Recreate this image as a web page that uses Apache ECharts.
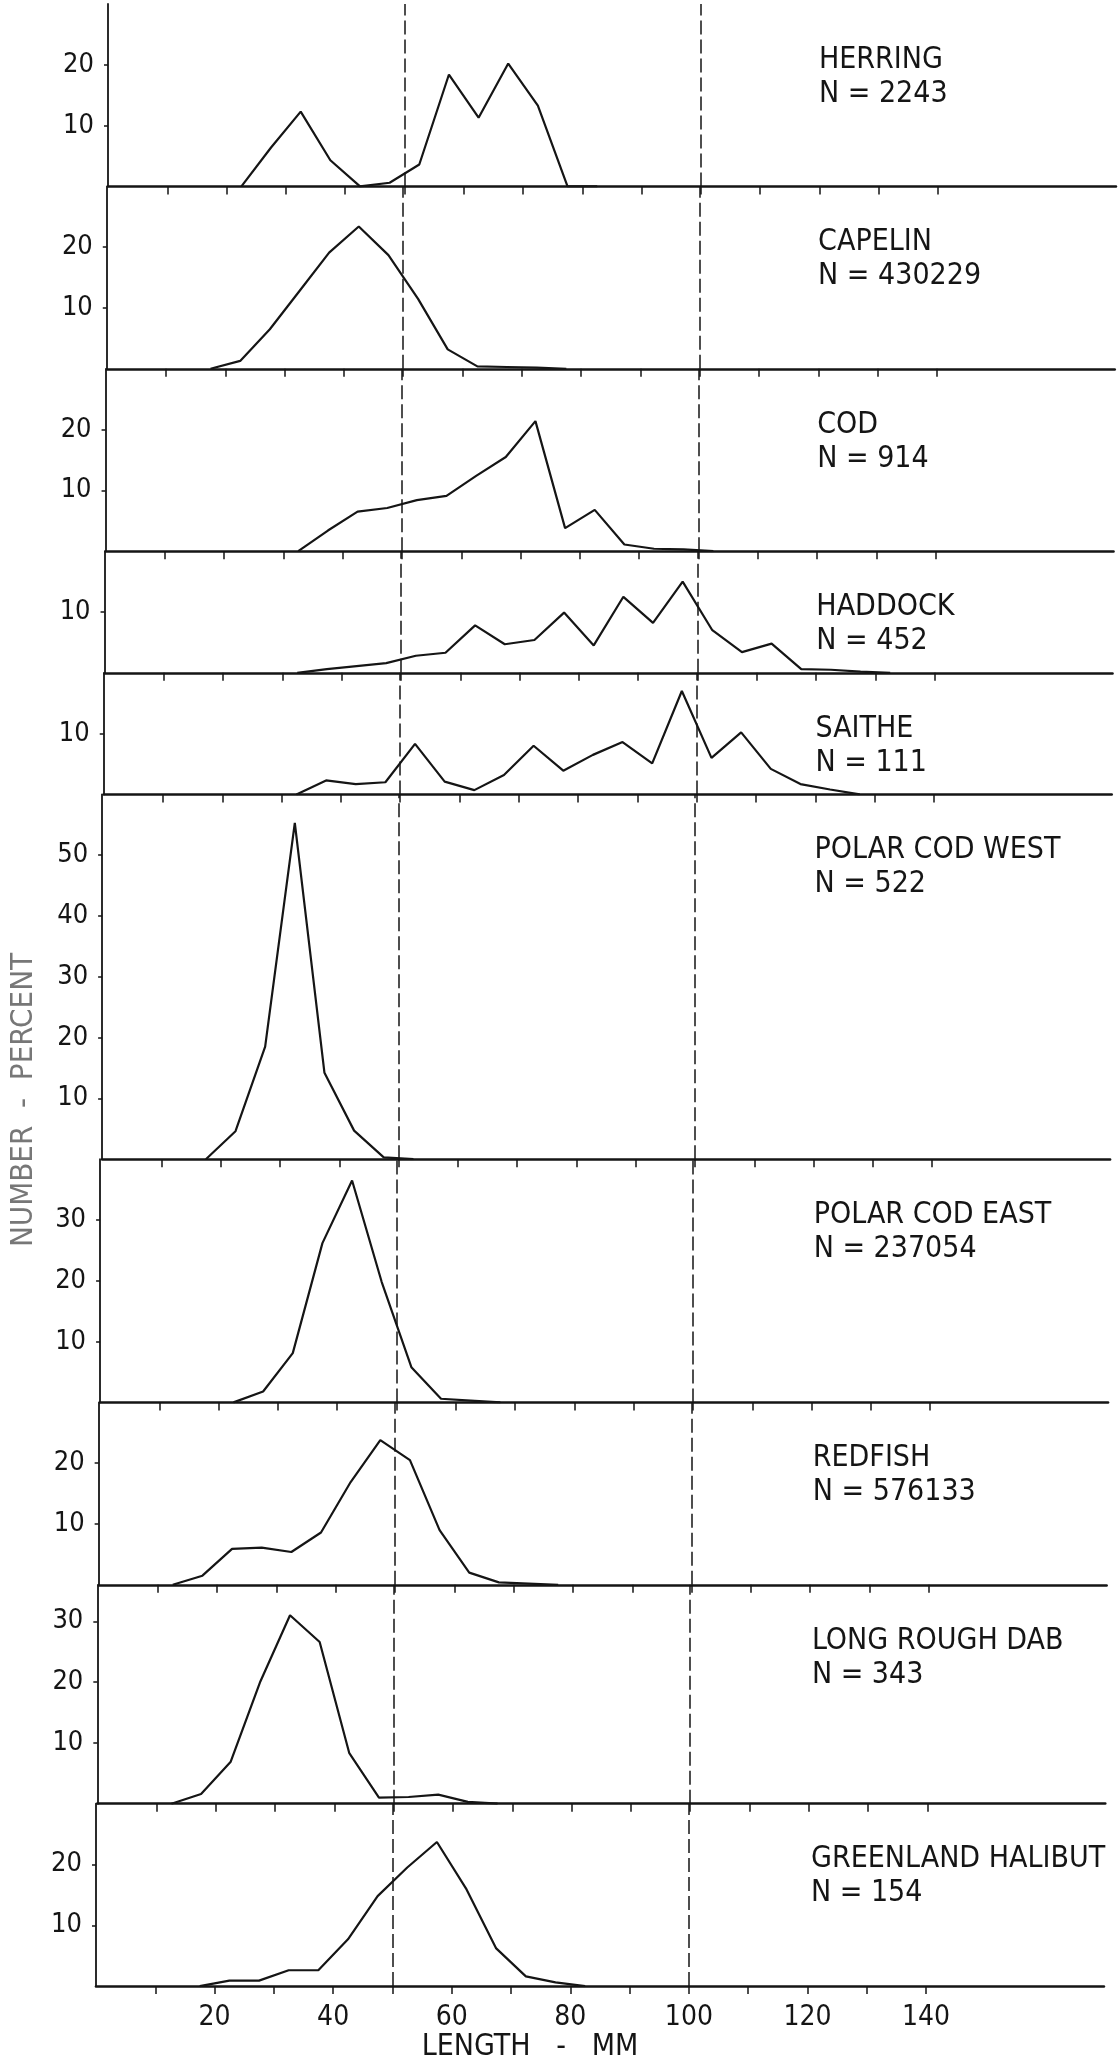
<!DOCTYPE html>
<html>
<head>
<meta charset="utf-8">
<title>Length distributions</title>
<script src="https://cdn.jsdelivr.net/npm/echarts@6/dist/echarts.min.js"></script>
<style>
  html, body { margin: 0; padding: 0; background: #fff; }
  #chart { width: 1120px; height: 2064px; }
</style>
</head>
<body>
<div id="chart"></div>
<script>
//length classes, mm (class midpoints)
let lengthClasses = [12.5, 17.5, 22.5, 27.5, 32.5, 37.5, 42.5, 47.5, 52.5, 57.5, 62.5, 67.5, 72.5,
  77.5, 82.5, 87.5, 92.5, 97.5, 102.5, 107.5, 112.5, 117.5, 122.5, 127.5, 132.5];

//species and sample size
let species = ['HERRING', 'CAPELIN', 'COD', 'HADDOCK', 'SAITHE', 'POLAR COD WEST',
  'POLAR COD EAST', 'REDFISH', 'LONG ROUGH DAB', 'GREENLAND HALIBUT'];
let sampleSize = [2243, 430229, 914, 452, 111, 522, 237054, 576133, 343, 154];

//number - percent per length class (null = no line)
let herring = [null, null, 0, 6.4, 12.3, 4.3, 0, 0.6, 3.6, 18.4, 11.3, 20.2, 13.3, 0, 0,
  null, null, null, null, null, null, null, null, null, null];
let capelin = [null, 0, 1.3, 6.5, 12.8, 19.1, 23.4, 18.7, 11.5, 3.2, 0.4, 0.3, 0.2, 0,
  null, null, null, null, null, null, null, null, null, null, null];
let cod = [null, null, null, null, 0, 3.4, 6.5, 7.1, 8.4, 9.1, 12.4, 15.5, 21.4, 3.8, 6.8,
  1.1, 0.4, 0.3, 0, null, null, null, null, null, null];
let haddock = [null, null, null, null, 0, 0.6, 1.1, 1.6, 2.8, 3.3, 7.8, 4.7, 5.4, 9.9, 4.5,
  12.5, 8.2, 15.0, 7.0, 3.4, 4.8, 0.6, 0.5, 0.2, 0];
let saithe = [null, null, null, null, 0, 2.3, 1.7, 2.0, 8.3, 2.1, 0.7, 3.2, 8.0, 3.9, 6.5,
  8.6, 5.1, 17.0, 6.0, 10.2, 4.2, 1.7, 0.8, 0, null];
let polarCodWest = [null, 0, 4.6, 18.5, 55.3, 14.2, 4.7, 0.3, 0,
  null, null, null, null, null, null, null, null, null, null, null, null, null, null, null, null];
let polarCodEast = [null, null, 0, 1.8, 8.1, 26.2, 36.5, 19.8, 5.8, 0.6, 0.3, 0,
  null, null, null, null, null, null, null, null, null, null, null, null, null];
let redfish = [0, 1.5, 5.9, 6.1, 5.4, 8.6, 16.9, 23.8, 20.5, 9.0, 2.0, 0.4, 0.2, 0,
  null, null, null, null, null, null, null, null, null, null, null];
let longRoughDab = [0, 1.6, 6.9, 20.1, 31.0, 26.6, 8.3, 1.0, 1.1, 1.5, 0.3, 0,
  null, null, null, null, null, null, null, null, null, null, null, null, null];
let greenlandHalibut = [null, 0, 0.9, 0.9, 2.6, 2.6, 7.7, 14.8, 19.5, 23.7, 15.9, 6.2, 1.6, 0.6, 0,
  null, null, null, null, null, null, null, null, null, null];

let seriesValues = [herring, capelin, cod, haddock, saithe, polarCodWest,
  polarCodEast, redfish, longRoughDab, greenlandHalibut];

//axis ranges and ticks
let panelMax = [30, 30, 30, 20, 20, 60, 40, 30, 36, 30];
let yLabels = [[10, 20], [10, 20], [10, 20], [10], [10], [10, 20, 30, 40, 50],
  [10, 20, 30], [10, 20], [10, 20, 30], [10, 20]];
let xTicks = [10, 20, 30, 40, 50, 60, 70, 80, 90, 100, 110, 120, 130, 140];
let xLabels = [20, 40, 60, 80, 100, 120, 140];
let dashLines = [50, 100];
let xMax = 170;

//layout
let fontFam = "'DejaVu Sans Condensed', 'DejaVu Sans', sans-serif";
let pxPerPct = 6.08;
let plotTop = 4;
let plotWidth = 1008;
let ink = '#151515';

let chart = echarts.init(document.getElementById('chart'), null, { renderer: 'canvas' });

let grids = [], xAxes = [], yAxes = [], series = [], graphics = [];
let panelTop = plotTop;
let last = species.length - 1;

species.forEach((name, i) => {
  let h = panelMax[i] * pxPerPct;
  let mid = panelTop + h / 2;
  //the scanned figure leans a little, move the axis left going down
  let left = 108 - (mid - 95) / 1795 * 12;

  grids.push({ left: left, top: panelTop, width: plotWidth, height: h, containLabel: false });

  xAxes.push({
    gridIndex: i,
    type: 'value',
    min: 0,
    max: xMax,
    axisLine: { show: true, onZero: false, lineStyle: { color: ink, width: 2.5 } },
    axisTick: { show: true, customValues: xTicks, length: 8, inside: false, lineStyle: { color: ink, width: 1.5 } },
    axisLabel: {
      show: i === last,
      customValues: xLabels,
      fontFamily: fontFam,
      fontSize: 28,
      color: ink,
      margin: 18
    },
    splitLine: { show: false }
  });

  yAxes.push({
    gridIndex: i,
    type: 'value',
    min: 0,
    max: panelMax[i],
    axisLine: { show: true, lineStyle: { color: ink, width: 1.8 } },
    axisTick: { show: true, customValues: yLabels[i], length: 4, lineStyle: { color: ink, width: 1.5 } },
    axisLabel: {
      show: true,
      customValues: yLabels[i],
      fontFamily: fontFam,
      fontSize: 27,
      color: ink,
      margin: 14
    },
    splitLine: { show: false }
  });

  let pts = [];
  seriesValues[i].forEach((v, k) => {
    if (v !== null) {
      pts.push([lengthClasses[k], v]);
    }
  });

  series.push({
    type: 'line',
    name: name,
    xAxisIndex: i,
    yAxisIndex: i,
    data: pts,
    showSymbol: false,
    symbol: 'none',
    silent: true,
    lineStyle: { color: ink, width: 2.2 },
    markLine: {
      silent: true,
      symbol: ['none', 'none'],
      label: { show: false },
      lineStyle: { color: ink, width: 1.5, type: [14, 5] },
      data: dashLines.map(d => ({ xAxis: d }))
    }
  });

  //species name and N
  graphics.push({
    type: 'text',
    x: 819 - i / last * 8,
    y: panelTop + 39,
    style: {
      text: name + '\nN = ' + sampleSize[i],
      fontFamily: fontFam,
      fontSize: 30,
      lineHeight: 34,
      fill: ink,
      verticalAlign: 'top',
      align: 'left'
    }
  });

  panelTop += h;
});

//axis titles
graphics.push({
  type: 'text',
  x: 24,
  y: 1100,
  rotation: Math.PI / 2,
  style: {
    text: 'NUMBER  -  PERCENT',
    fontFamily: fontFam,
    fontSize: 31,
    fill: '#777',
    align: 'center',
    verticalAlign: 'middle'
  }
});
graphics.push({
  type: 'text',
  x: 530,
  y: 2047,
  style: {
    text: 'LENGTH   -   MM',
    fontFamily: fontFam,
    fontSize: 30,
    fill: ink,
    align: 'center',
    verticalAlign: 'middle'
  }
});

chart.setOption({
  backgroundColor: '#ffffff',
  animation: false,
  grid: grids,
  xAxis: xAxes,
  yAxis: yAxes,
  series: series,
  graphic: graphics
});
</script>
</body>
</html>
